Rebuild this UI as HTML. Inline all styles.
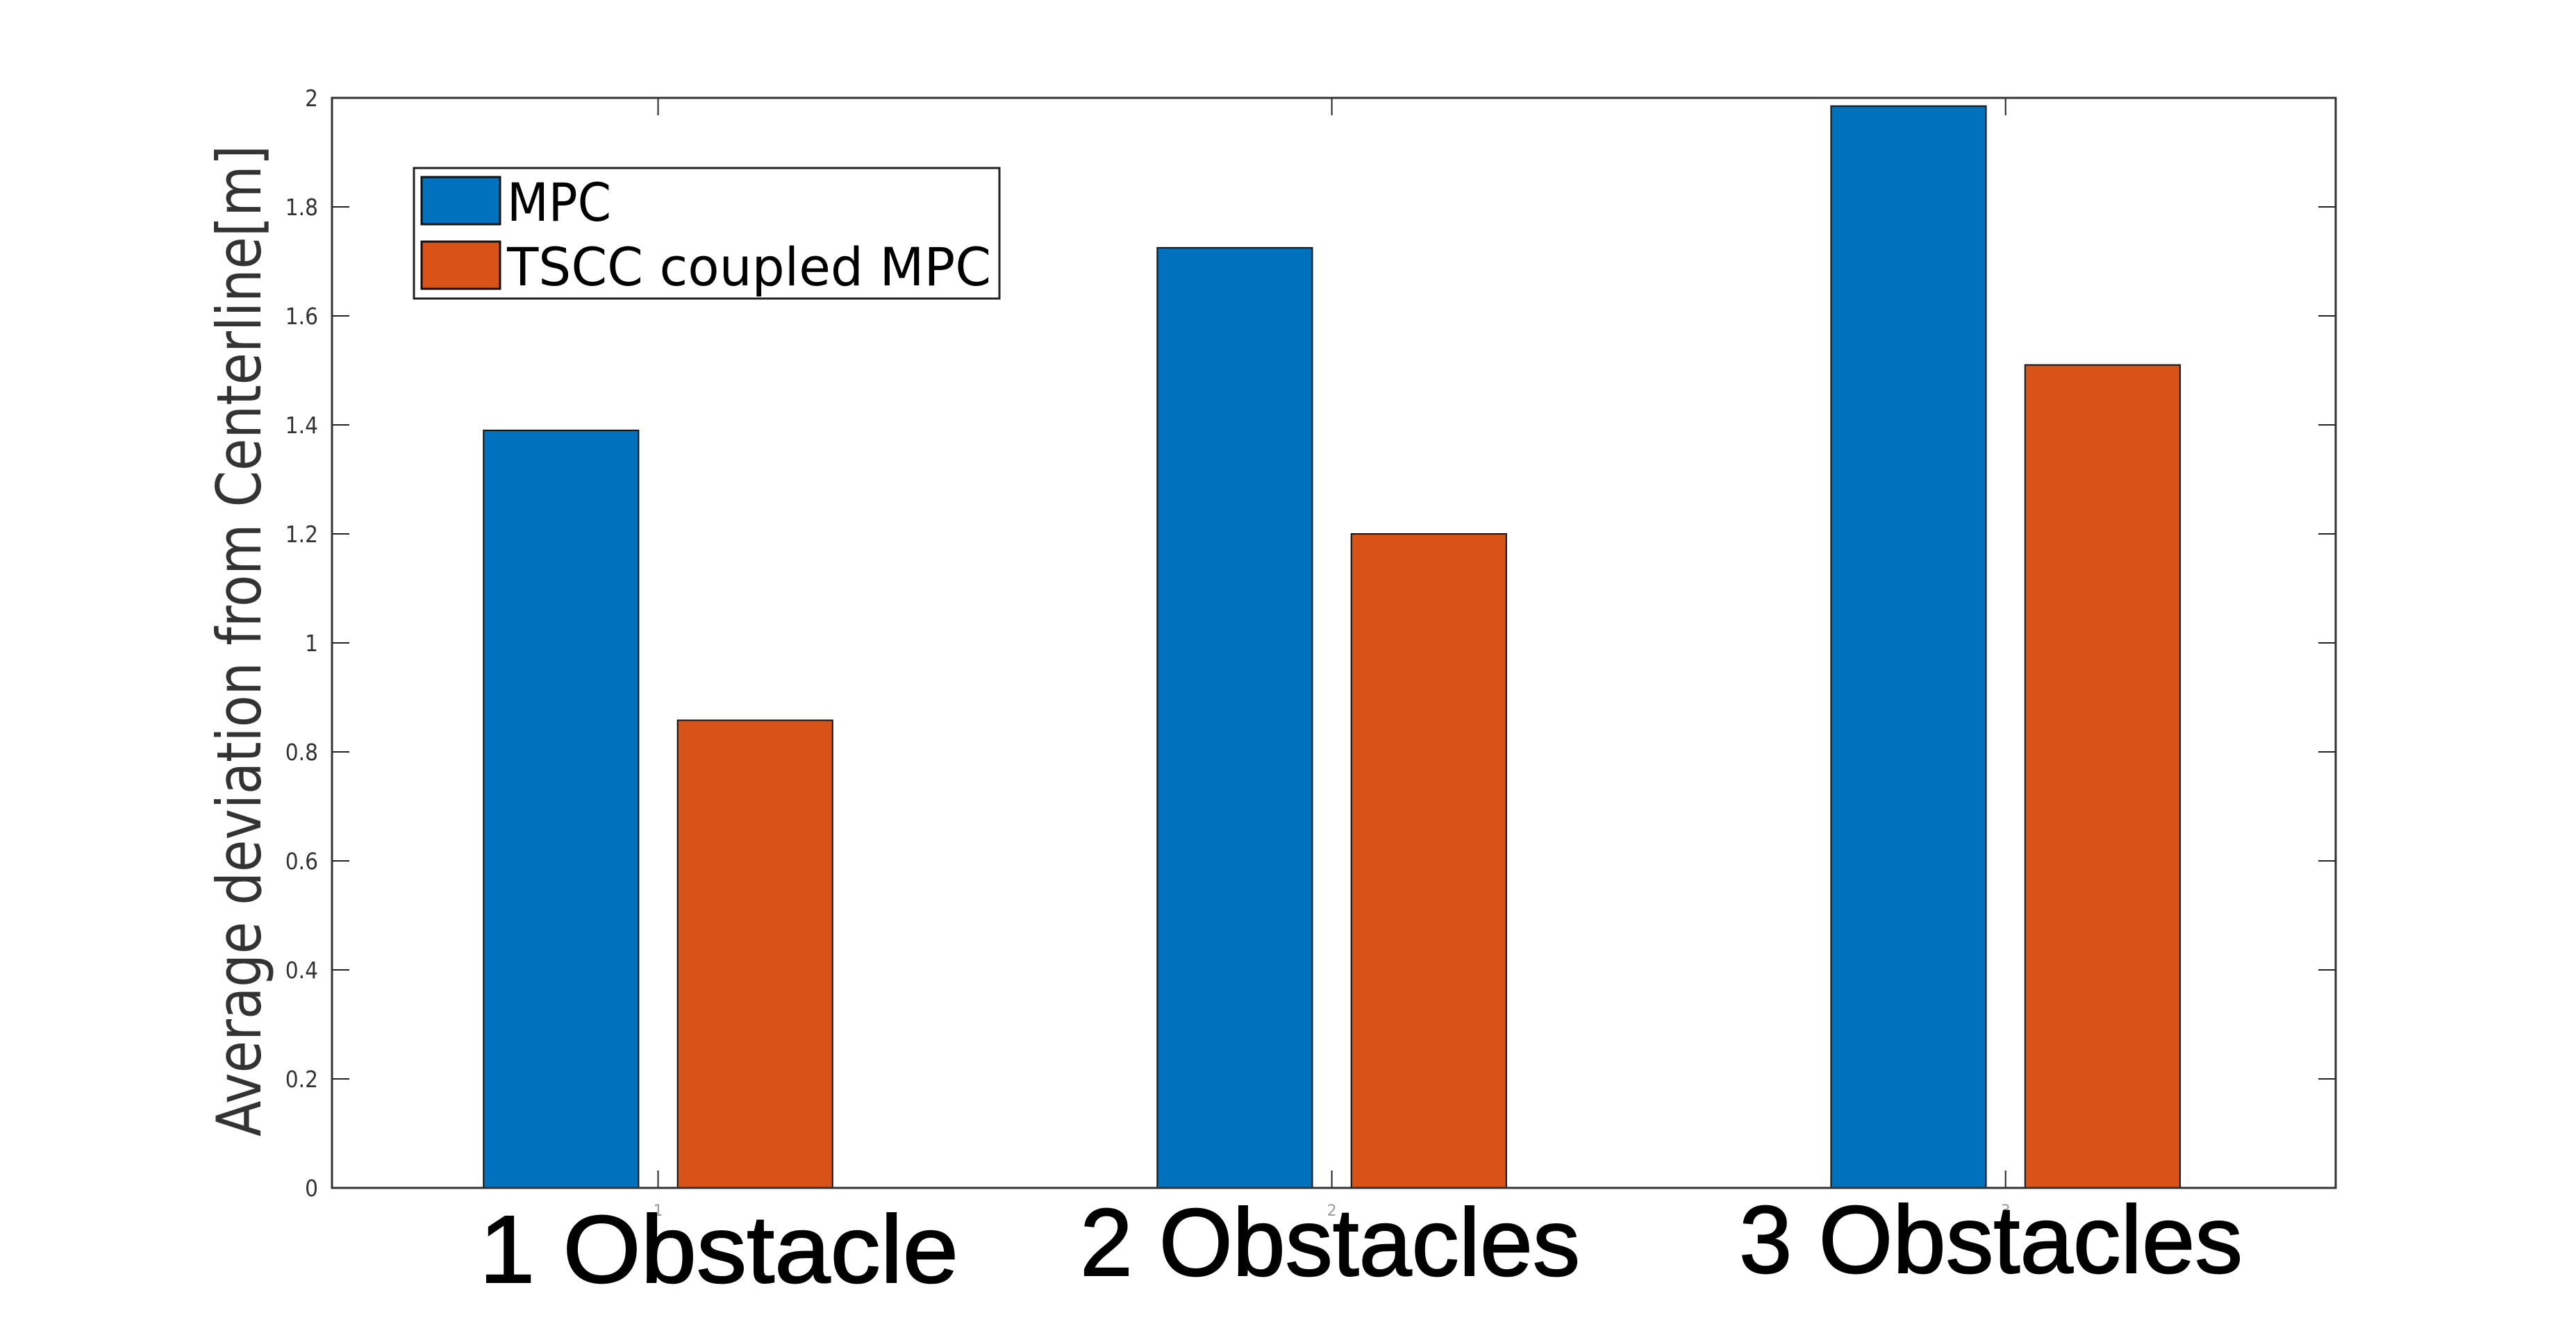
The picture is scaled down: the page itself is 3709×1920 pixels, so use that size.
<!DOCTYPE html>
<html><head><meta charset="utf-8"><style>
html,body{margin:0;padding:0;background:#fff;}
svg{display:block;}
</style></head><body>
<svg id="chart" width="3709" height="1920" viewBox="0 0 3709 1920" xmlns="http://www.w3.org/2000/svg">
<rect x="0" y="0" width="3709" height="1920" fill="#fff"/>
<g id="plot"></g>
<g id="legend">
  <rect x="596" y="242" width="843" height="188" fill="#fff" stroke="#222" stroke-width="3"/>
  <rect x="607" y="255" width="113" height="68" fill="#0072BD" stroke="#111" stroke-width="3"/>
  <text x="730" y="318" font-family="DejaVu Sans Condensed, DejaVu Sans, sans-serif" font-size="76" fill="#000" textLength="150" lengthAdjust="spacingAndGlyphs">MPC</text>
  <rect x="607" y="348" width="113" height="68" fill="#D95319" stroke="#111" stroke-width="3"/>
  <text x="730" y="411" font-family="DejaVu Sans Condensed, DejaVu Sans, sans-serif" font-size="76" fill="#000" textLength="697" lengthAdjust="spacingAndGlyphs">TSCC coupled MPC</text>
</g>
<text transform="translate(375,923) rotate(-90)" text-anchor="middle" font-family="DejaVu Sans, sans-serif" font-size="88" fill="#333" textLength="1428" lengthAdjust="spacingAndGlyphs">Average deviation from Centerline[m]</text>
<text x="690" y="1847" font-family="Liberation Sans, sans-serif" font-size="138" fill="#000" stroke="#000" stroke-width="2" textLength="690" lengthAdjust="spacingAndGlyphs">1  Obstacle</text>
<text x="1555" y="1837" font-family="Liberation Sans, sans-serif" font-size="138" fill="#000" stroke="#000" stroke-width="2" textLength="720" lengthAdjust="spacingAndGlyphs">2 Obstacles</text>
<text x="2504" y="1833" font-family="Liberation Sans, sans-serif" font-size="138" fill="#000" stroke="#000" stroke-width="2" textLength="725" lengthAdjust="spacingAndGlyphs">3 Obstacles</text>
</svg>
<script>
const categories = [1, 2, 3];
const mpcValues = [1.39, 1.725, 1.985];
const tsccValues = [0.858, 1.2, 1.51];
const yTicks = [0, 0.2, 0.4, 0.6, 0.8, 1, 1.2, 1.4, 1.6, 1.8, 2];
const yTickLabels = ['0', '0.2', '0.4', '0.6', '0.8', '1', '1.2', '1.4', '1.6', '1.8', '2'];

const NS = 'http://www.w3.org/2000/svg';
const L = 478, R = 3363, T = 141, B = 1711;
const xMin = 0.516, xMax = 3.49, yMin = 0, yMax = 2;
function xs(v){ return L + (v - xMin) / (xMax - xMin) * (R - L); }
function ys(v){ return B - (v - yMin) / (yMax - yMin) * (B - T); }
const plot = document.getElementById('plot');
function mk(tag, attrs){ const e = document.createElementNS(NS, tag); for (const k in attrs) e.setAttribute(k, attrs[k]); plot.appendChild(e); return e; }

const barW = 0.23, off = 0.144;
categories.forEach((c, i) => {
  const b1 = mk('rect', {x: xs(c - off - barW/2), y: ys(mpcValues[i]), width: xs(c - off + barW/2) - xs(c - off - barW/2), height: ys(0) - ys(mpcValues[i]), fill: '#0072BD', stroke: '#111', 'stroke-width': 2});
  
  
  const b2 = mk('rect', {x: xs(c + off - barW/2), y: ys(tsccValues[i]), width: xs(c + off + barW/2) - xs(c + off - barW/2), height: ys(0) - ys(tsccValues[i]), fill: '#D95319', stroke: '#111', 'stroke-width': 2});
  
  
  const t1 = mk('line', {x1: xs(c), x2: xs(c), y1: B, y2: B - 25, stroke: '#222', 'stroke-width': 2});
  
  
  const t2 = mk('line', {x1: xs(c), x2: xs(c), y1: T, y2: T + 25, stroke: '#222', 'stroke-width': 2});
  
  
  const tl = mk('text', {x: xs(c), y: B + 40, 'text-anchor': 'middle', 'font-family': 'DejaVu Sans, sans-serif', 'font-size': 22, fill: '#999'});
  tl.textContent = String(c);
  
  
});

yTicks.forEach((v, i) => {
  const a = mk('line', {x1: L, x2: L + 25, y1: ys(v), y2: ys(v), stroke: '#222', 'stroke-width': 2});
  
  
  const b = mk('line', {x1: R, x2: R - 25, y1: ys(v), y2: ys(v), stroke: '#222', 'stroke-width': 2});
  
  
  const t = mk('text', {x: L - 20, y: ys(v) + 12, 'text-anchor': 'end', 'font-family': 'DejaVu Sans Condensed, DejaVu Sans, sans-serif', 'font-size': 33, fill: '#333'});
  t.textContent = yTickLabels[i];
  
  
});

const frame = mk('rect', {x: L, y: T, width: R - L, height: B - T, fill: 'none', stroke: '#333', 'stroke-width': 3});


</script>
</body></html>
